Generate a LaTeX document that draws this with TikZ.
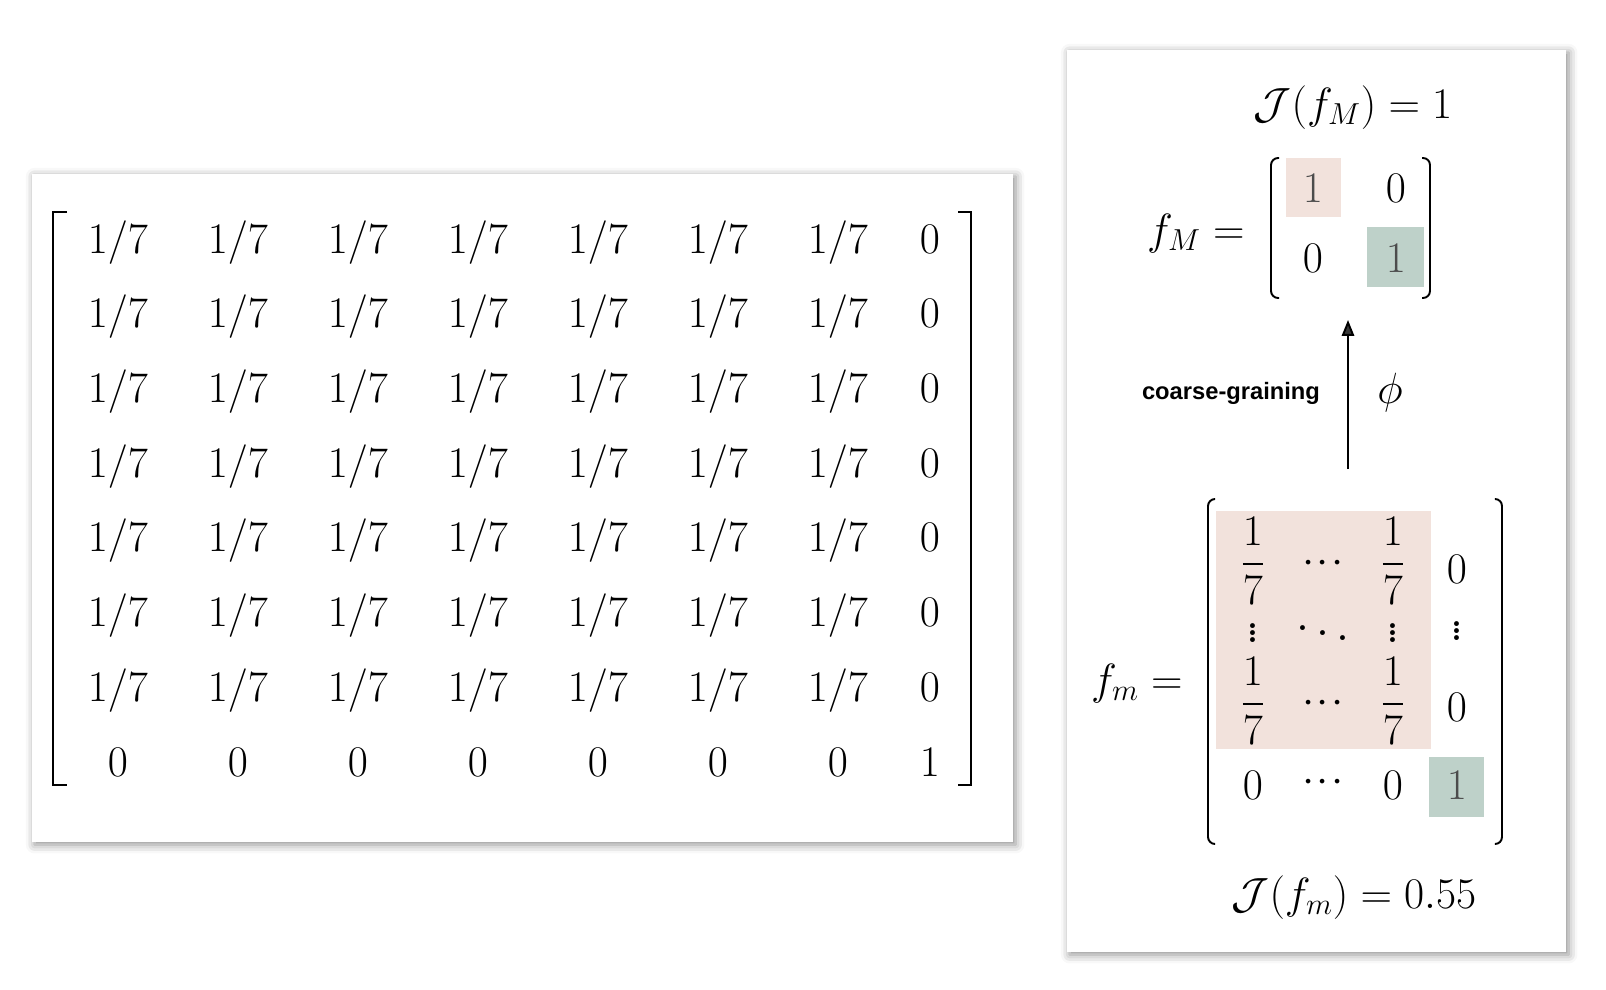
\documentclass[tikz,border=0pt]{standalone}
\usepackage{amsmath}
\usepackage{fontspec}
\setsansfont{Liberation Sans}
\usetikzlibrary{arrows.meta, shadows.blur}
\definecolor{cellpink}{HTML}{F2E2DC}
\definecolor{cellgreen}{HTML}{BED1C9}

\begin{document}
\begin{tikzpicture}[x=0.02cm, y=-0.02cm,
    panel/.style={fill=white, blur shadow={shadow xshift=1.5pt, shadow yshift=-1.5pt, shadow blur radius=5pt, shadow opacity=45}},
    bigentry/.style={anchor=base, inner sep=0pt, font=\fontsize{32}{36}\selectfont},
    entry/.style={inner sep=0pt, font=\fontsize{24.5}{28}\selectfont},
    dotsentry/.style={inner sep=0pt, font=\fontsize{34}{38}\selectfont},
    brack/.style={line width=1.6pt},
    thinbrack/.style={line width=1.1pt, rounded corners=4pt}]
    \useasboundingbox (0,0) rectangle (1606,990);

    % Panels
    \path[panel] (32,174) rectangle (1013,842);
    \path[panel] (1067,50) rectangle (1566,952);

    % Micro transition matrix
    \foreach \r in {1,...,7} {
        \foreach \c in {1,...,7}
            \node[bigentry] (big-\r-\c) at ({118+120*(\c-1)}, {253+74.7*(\r-1)}) {$1/7$};
        \node[bigentry] (big-\r-8) at (930, {253+74.7*(\r-1)}) {$0$};
    }
    \foreach \c in {1,...,7}
        \node[bigentry] (big-8-\c) at ({118+120*(\c-1)}, 776) {$0$};
    \node[bigentry] (big-8-8) at (930, 776) {$1$};
    \draw[brack] (67,212) -- (53,212) -- (53,785) -- (67,785);
    \draw[brack] (958,212) -- (971,212) -- (971,785) -- (958,785);

    % Macro matrix
    \node[entry, anchor=base] (jM) at (1353,118) {$\mathcal{J}(f_M) = 1$};
    \node[entry, anchor=base east] (fM) at (1245,244) {$f_M =$};
    \fill[cellpink] (1286,158) rectangle (1341,217);
    \fill[cellgreen] (1367,227) rectangle (1424,287);
    \node[entry, anchor=base, text=black!70] (small-1-1) at (1313,202) {$1$};
    \node[entry, anchor=base] (small-1-2) at (1396,202) {$0$};
    \node[entry, anchor=base] (small-2-1) at (1313,272) {$0$};
    \node[entry, anchor=base, text=black!70] (small-2-2) at (1396,272) {$1$};
    \draw[thinbrack] (1279,158) -- (1271,158) -- (1271,298) -- (1279,298);
    \draw[thinbrack] (1422,158) -- (1430,158) -- (1430,298) -- (1422,298);

    % Coarse-graining map
    \coordinate (phi-from) at (1348,469);
    \coordinate (phi-to) at (1348,320);
    \draw[line width=1.1pt, -{Triangle[length=9pt, width=7pt]}] (phi-from) -- (phi-to);
    \node[font=\sffamily\bfseries\fontsize{13.5}{16}\selectfont] (cg) at (1231,393) {coarse-graining};
    \node[entry] (phi) at (1390,393) {$\phi$};

    % Micro matrix, compact form
    \node[entry, anchor=base east] (fm) at (1183,694) {$f_m =$};
    \fill[cellpink] (1216,511) rectangle (1431,749);
    \fill[cellgreen] (1429,757) rectangle (1484,817);
    \node[entry] (comp-1-1) at (1253,561) {$\dfrac{1}{7}$};
    \node[entry] (comp-1-2) at (1323,564) {$\cdot\!\cdot\!\cdot$};
    \node[entry] (comp-1-3) at (1393,561) {$\dfrac{1}{7}$};
    \node[entry] (comp-1-4) at (1457,569) {$0$};
    \node[dotsentry] (comp-2-1) at (1253,628) {$\vdots$};
    \node[dotsentry] (comp-2-2) at (1323,628) {$\ddots$};
    \node[dotsentry] (comp-2-3) at (1393,628) {$\vdots$};
    \node[dotsentry] (comp-2-4) at (1457,626) {$\vdots$};
    \node[entry] (comp-3-1) at (1253,701) {$\dfrac{1}{7}$};
    \node[entry] (comp-3-2) at (1323,704) {$\cdot\!\cdot\!\cdot$};
    \node[entry] (comp-3-3) at (1393,701) {$\dfrac{1}{7}$};
    \node[entry] (comp-3-4) at (1457,707) {$0$};
    \node[entry] (comp-4-1) at (1253,785) {$0$};
    \node[entry] (comp-4-2) at (1323,783) {$\cdot\!\cdot\!\cdot$};
    \node[entry] (comp-4-3) at (1393,785) {$0$};
    \node[entry, text=black!70] (comp-4-4) at (1457,785) {$1$};
    \draw[thinbrack] (1215,499) -- (1208,499) -- (1208,844) -- (1215,844);
    \draw[thinbrack] (1495,499) -- (1502,499) -- (1502,844) -- (1495,844);
    \node[entry, anchor=base] (jm) at (1354,908) {$\mathcal{J}(f_m) = 0.55$};
\end{tikzpicture}
\end{document}
